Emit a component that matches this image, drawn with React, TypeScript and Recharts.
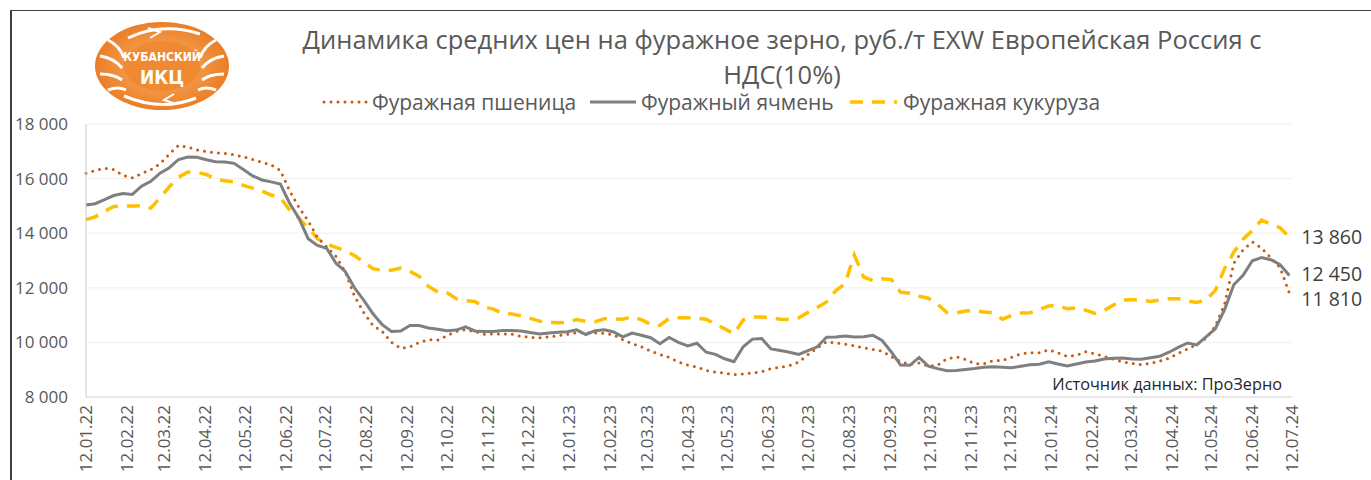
import { LineChart, Line, XAxis, YAxis, CartesianGrid } from "recharts";

const DAY = 86400000;
const toDay = (s: string) => {
  const [d, m, y] = s.split(".").map(Number);
  return Date.UTC(2000 + y, m - 1, d) / DAY;
};

const FONT = "'Open Sans', sans-serif";

const tickLabels = [
  "12.01.22", "12.02.22", "12.03.22", "12.04.22", "12.05.22", "12.06.22",
  "12.07.22", "12.08.22", "12.09.22", "12.10.22", "12.11.22", "12.12.22",
  "12.01.23", "12.02.23", "12.03.23", "12.04.23", "12.05.23", "12.06.23",
  "12.07.23", "12.08.23", "12.09.23", "12.10.23", "12.11.23", "12.12.23",
  "12.01.24", "12.02.24", "12.03.24", "12.04.24", "12.05.24", "12.06.24",
  "12.07.24",
];

const yTicks = [8000, 10000, 12000, 14000, 16000, 18000];

// weekly prices from 12.01.22
const firstWeek = "12.01.22";

const wheat = [
  16200, 16300, 16380, 16330, 16120, 16030, 16180, 16330, 16540, 16900,
  17220, 17150, 17050, 16990, 16950, 16920, 16870, 16800, 16700, 16600,
  16500, 16300, 15550, 14950, 14450, 13850, 13500, 13150, 12600, 11700,
  11100, 10620, 10400, 10000, 9780, 9840, 10000, 10100, 10090, 10250,
  10400, 10460, 10400, 10300, 10310, 10310, 10300, 10220, 10190, 10170,
  10210, 10240, 10300, 10350, 10350, 10350, 10330, 10280, 10100, 9960,
  9840, 9680, 9560, 9450, 9280, 9170, 9100, 8970, 8910, 8880,
  8820, 8840, 8880, 8930, 9040, 9090, 9150, 9280, 9550, 9800,
  10030, 9980, 9940, 9880, 9800, 9740, 9680, 9480, 9300, 9200,
  9250, 9130, 9160, 9400, 9470, 9380, 9220, 9220, 9330, 9340,
  9460, 9580, 9620, 9620, 9730, 9620, 9490, 9530, 9660, 9580,
  9490, 9380, 9290, 9230, 9190, 9230, 9320, 9420, 9600, 9760,
  9930, 10150, 10600, 11400, 12900, 13390, 13680, 13460, 13100, 12740,
  11810,
];

const barley = [
  15030, 15080, 15230, 15380, 15450, 15420, 15720, 15900, 16200, 16400,
  16700, 16790, 16780, 16690, 16620, 16610, 16560, 16330, 16100, 15950,
  15880, 15800, 15100, 14550, 13800, 13550, 13450, 12900, 12600, 12000,
  11550, 11050, 10650, 10400, 10420, 10620, 10620, 10530, 10480, 10430,
  10450, 10570, 10420, 10400, 10400, 10440, 10440, 10420, 10360, 10310,
  10340, 10370, 10390, 10460, 10290, 10430, 10460, 10380, 10200, 10340,
  10260, 10170, 9950, 10180, 10000, 9870, 9970, 9640, 9560, 9400,
  9290, 9840, 10120, 10140, 9760, 9700, 9640, 9560, 9700, 9840,
  10190, 10200, 10230, 10200, 10210, 10260, 10070, 9650, 9170, 9160,
  9450, 9130, 9040, 8960, 8970, 9010, 9040, 9090, 9110, 9090,
  9070, 9130, 9180, 9200, 9290, 9210, 9140, 9210, 9280, 9320,
  9390, 9420, 9430, 9390, 9380, 9440, 9490, 9640, 9820, 9980,
  9910, 10200, 10500, 11200, 12110, 12460, 12990, 13110, 13030, 12850,
  12450,
];

const corn = [
  14500, 14600, 14800, 14980, 15000, 15000, 15010, 14920, 15300, 15700,
  16050, 16240, 16230, 16150, 15980, 15920, 15880, 15750, 15650, 15550,
  15400, 15300, 14850, 14550, 14200, 13800, 13600, 13480, 13360, 13180,
  12950, 12700, 12640, 12640, 12720, 12600, 12420, 12050, 11850, 11820,
  11600, 11530, 11500, 11300, 11220, 11070, 11040, 10970, 10880, 10780,
  10740, 10720, 10740, 10840, 10770, 10760, 10870, 10860, 10850, 10940,
  10830, 10660, 10620, 10880, 10900, 10900, 10880, 10850, 10660, 10500,
  10310, 10820, 10930, 10930, 10900, 10850, 10840, 10900, 11100, 11280,
  11480, 11900, 12150, 13200, 12400, 12260, 12330, 12300, 11840, 11800,
  11690, 11620, 11400, 11090, 11080, 11150, 11170, 11110, 11080, 10850,
  10990, 11080, 11090, 11200, 11330, 11350, 11230, 11270, 11180, 11060,
  11170, 11370, 11550, 11560, 11560, 11500, 11550, 11600, 11600, 11520,
  11460, 11560, 11900, 12700, 13300, 13780, 14100, 14480, 14330, 14200,
  13860,
];

const xTicks = tickLabels.map(toDay);
const t0 = toDay(firstWeek);
const data = wheat.map((w, i) => ({
  t: t0 + 7 * i,
  wheat: w,
  barley: barley[i],
  corn: corn[i],
}));
const lastIdx = data.length - 1;

const fmt = (v: number) => String(v).replace(/\B(?=(\d{3})+(?!\d))/g, " ");

const labelByDay: Record<number, string> = {};
tickLabels.forEach((s, i) => (labelByDay[xTicks[i]] = s));

function XTick({ x, y, payload }: any) {
  return (
    <text
      x={x}
      y={y}
      transform={`rotate(-90, ${x}, ${y})`}
      textAnchor="end"
      dy="0.36em"
      fill="#595959"
      fontSize={17}
      fontFamily={FONT}
    >
      {labelByDay[payload.value]}
    </text>
  );
}

const endLabel = (dy: number) => (p: any) =>
  p.index === lastIdx ? (
    <text
      x={p.x + 12}
      y={p.y + dy}
      dy="0.36em"
      fill="#404040"
      fontSize={19.5}
      fontFamily={FONT}
    >
      {fmt(p.value)}
    </text>
  ) : null;

const WHEAT = "#C55A11";
const BARLEY = "#7F7F7F";
const CORN = "#FFC000";

function Logo() {
  return (
    <g>
      <defs>
        <radialGradient id="lg" cx="50%" cy="50%" r="60%">
          <stop offset="0%" stopColor="#F9B56A" />
          <stop offset="100%" stopColor="#E8731A" />
        </radialGradient>
      </defs>
      <ellipse cx={162} cy={66} rx={67} ry={44} fill="url(#lg)" />
      {/* leaf separators */}
      <path d="M108 40 Q120 46 124 58" stroke="#fff" strokeWidth={3} fill="none" />
      <path d="M100 56 Q114 58 122 68" stroke="#fff" strokeWidth={3} fill="none" />
      <path d="M100 74 Q114 74 122 80" stroke="#fff" strokeWidth={3} fill="none" />
      <path d="M108 90 Q118 86 126 90" stroke="#fff" strokeWidth={3} fill="none" />
      <path d="M216 40 Q204 46 200 58" stroke="#fff" strokeWidth={3} fill="none" />
      <path d="M224 56 Q210 58 202 68" stroke="#fff" strokeWidth={3} fill="none" />
      <path d="M224 74 Q210 74 202 80" stroke="#fff" strokeWidth={3} fill="none" />
      <path d="M216 90 Q206 86 198 90" stroke="#fff" strokeWidth={3} fill="none" />
      {/* arrows */}
      <path d="M128 38 Q162 22 200 34" stroke="#fff" strokeWidth={3} fill="none" />
      <path d="M124 96 Q162 112 196 98" stroke="#fff" strokeWidth={3} fill="none" />
      <path d="M148 28 L160 32 L150 38" stroke="#fff" strokeWidth={2} fill="none" />
      <path d="M176 104 L164 100 L174 94" stroke="#fff" strokeWidth={2} fill="none" />
      <ellipse cx={162} cy={66} rx={38} ry={25} fill="#F08A30" />
      <text
        x={162}
        y={61}
        textAnchor="middle"
        fill="#fff"
        fontSize={12}
        fontWeight={700}
        fontFamily="'Liberation Sans Narrow', 'DejaVu Sans Condensed', sans-serif"
      >
        КУБАНСКИЙ
      </text>
      <text
        x={162}
        y={84}
        textAnchor="middle"
        fill="#fff"
        fontSize={19}
        fontWeight={700}
        fontFamily="'Liberation Sans Narrow', 'DejaVu Sans Condensed', sans-serif"
      >
        ИКЦ
      </text>
    </g>
  );
}

function Overlay() {
  const txt = { fontFamily: FONT, fill: "#595959" };
  return (
    <svg
      width={1371}
      height={480}
      style={{ position: "absolute", left: 0, top: 0, pointerEvents: "none" }}
    >
      {/* frame */}
      <line x1={10} y1={10.5} x2={1371} y2={10.5} stroke="#404040" strokeWidth={1} />
      <line x1={11} y1={10} x2={11} y2={480} stroke="#404040" strokeWidth={2} />
      <Logo />
      <text x={782} y={40} dy="0.36em" textAnchor="middle" fontSize={25.5} {...txt}>
        Динамика средних цен на фуражное зерно, руб./т EXW Европейская Россия с
      </text>
      <text x={782} y={75} dy="0.36em" textAnchor="middle" fontSize={25.5} {...txt}>
        НДС(10%)
      </text>
      {/* legend */}
      <line x1={324} y1={102} x2={368} y2={102} stroke={WHEAT} strokeWidth={3} strokeDasharray="0 7" strokeLinecap="round" />
      <text x={372} y={102} dy="0.36em" fontSize={21} {...txt}>Фуражная пшеница</text>
      <line x1={590} y1={102} x2={636} y2={102} stroke={BARLEY} strokeWidth={3} />
      <text x={641} y={102} dy="0.36em" fontSize={21} {...txt}>Фуражный ячмень</text>
      <line x1={850} y1={102} x2={897} y2={102} stroke={CORN} strokeWidth={3.5} strokeDasharray="13 9" />
      <text x={903} y={102} dy="0.36em" fontSize={21} {...txt}>Фуражная кукуруза</text>
      <text x={1282} y={384} dy="0.36em" textAnchor="end" fontSize={16.3} fontFamily={FONT} fill="#262626">
        Источник данных: ПроЗерно
      </text>
    </svg>
  );
}

export default function App() {
  return (
    <div style={{ position: "absolute", left: 0, top: 0, width: 1371, height: 480, background: "#fff" }}>
      <LineChart
        width={1371}
        height={480}
        data={data}
        margin={{ top: 124, right: 79, left: 0, bottom: 0 }}
      >
        <CartesianGrid vertical={false} stroke="#EFEFEF" />
        <XAxis
          dataKey="t"
          type="number"
          domain={[xTicks[0], xTicks[xTicks.length - 1]]}
          ticks={xTicks}
          interval={0}
          height={83}
          tick={<XTick />}
          tickLine={false}
          axisLine={{ stroke: "#D9D9D9" }}
        />
        <YAxis
          domain={[8000, 18000]}
          ticks={yTicks}
          width={86}
          tickFormatter={fmt}
          tickLine={false}
          tickMargin={12}
          axisLine={{ stroke: "#C8C8C8" }}
          tick={{ fill: "#595959", fontSize: 17, fontFamily: FONT }}
        />
        <Line
          dataKey="corn"
          stroke={CORN}
          strokeWidth={3.5}
          strokeDasharray="13 9"
          dot={false}
          type="linear"
          isAnimationActive={false}
          label={endLabel(0)}
        />
        <Line
          dataKey="wheat"
          stroke={WHEAT}
          strokeWidth={3}
          strokeDasharray="0 7"
          strokeLinecap="round"
          dot={false}
          type="linear"
          isAnimationActive={false}
          label={endLabel(6)}
        />
        <Line
          dataKey="barley"
          stroke={BARLEY}
          strokeWidth={3}
          dot={false}
          type="linear"
          isAnimationActive={false}
          label={endLabel(-2)}
        />
      </LineChart>
      <Overlay />
    </div>
  );
}
